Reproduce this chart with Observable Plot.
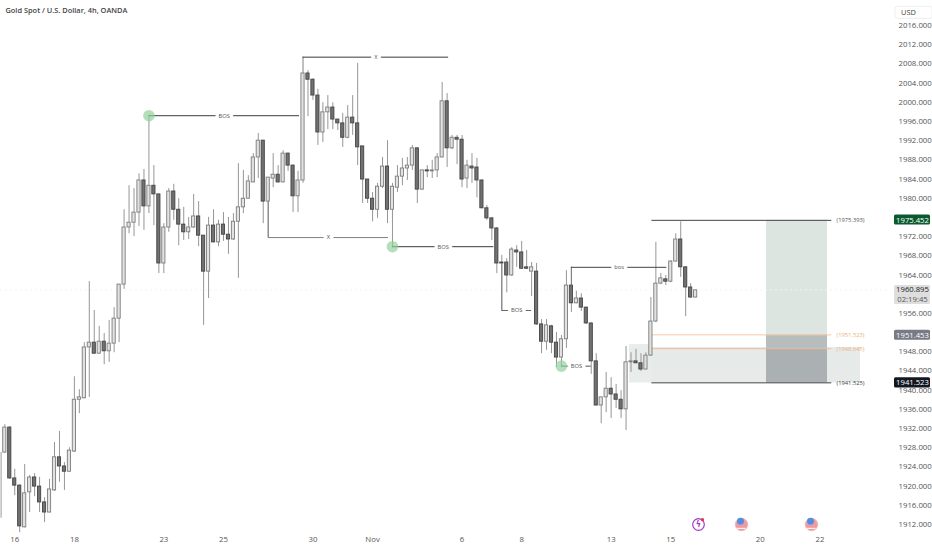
<!DOCTYPE html>
<html><head><meta charset="utf-8">
<script src="https://cdn.jsdelivr.net/npm/d3@7"></script>
<script src="https://cdn.jsdelivr.net/npm/@observablehq/plot@0.6"></script>
<style>html,body{margin:0;padding:0;background:#fff;overflow:hidden}svg{display:block}</style>
</head><body><div id="chart"></div>
<script>
const opens=[1927.0,1932.2,1921.6,1920.1,1911.4,1918.7,1921.8,1919.9,1916.6,1914.5,1919.1,1926.0,1924.1,1923.0,1927.2,1938.0,1938.3,1948.9,1949.9,1947.6,1950.1,1948.1,1949.7,1954.9,1962.0,1973.9,1974.9,1977.0,1983.7,1978.3,1982.6,1980.8,1966.4,1973.9,1981.4,1977.6,1974.5,1972.9,1973.9,1976.2,1972.2,1964.7,1974.3,1970.8,1974.5,1972.4,1971.4,1975.1,1978.1,1979.9,1983.3,1988.5,1992.0,1979.3,1984.1,1984.9,1983.3,1989.3,1986.8,1980.4,1983.7,2006.0,2004.7,2001.4,1993.7,1997.9,1998.9,1996.4,1995.6,1992.6,1996.8,1995.6,1990.8,1983.9,1979.9,1977.6,1982.4,1986.6,1977.6,1982.2,1984.5,1986.2,1986.8,1990.4,1981.8,1985.8,1985.6,1985.8,1988.5,2000.2,1990.4,1992.6,1992.2,1984.1,1986.6,1986.4,1983.7,1977.9,1975.8,1973.7,1966.6,1966.6,1963.9,1969.1,1968.7,1965.6,1964.7,1964.7,1953.7,1950.1,1953.3,1949.9,1946.8,1950.6,1961.8,1958.1,1959.1,1957.2,1953.9,1946.0,1936.8,1938.5,1940.3,1939.1,1938.0,1936.0,1945.8,1946.0,1945.6,1944.3,1947.2,1954.3,1962.2,1963.1,1962.6,1966.8,1971.4,1965.6,1961.4,1959.3];
const highs=[1932.8,1932.4,1923.5,1920.3,1924.5,1922.2,1922.6,1921.8,1917.6,1921.4,1929.1,1931.4,1924.9,1928.0,1942.8,1940.1,1949.9,1962.6,1956.6,1953.3,1951.8,1954.5,1957.2,1962.0,1977.6,1982.6,1982.0,1985.1,1986.0,1997.2,1986.8,1980.8,1974.7,1982.0,1982.9,1979.9,1978.1,1976.0,1980.8,1979.3,1972.2,1976.0,1977.6,1975.4,1977.0,1976.0,1976.8,1987.2,1985.8,1984.7,1989.3,1993.5,1992.0,1984.3,1989.3,1986.8,1989.9,1989.4,1986.9,1985.6,2006.0,2006.6,2004.9,2002.7,1999.9,2001.4,1999.9,1996.4,1997.7,1999.3,2001.4,2008.1,1990.8,1983.9,1981.2,1983.1,1988.5,1992.0,1983.1,1986.8,1988.3,1988.5,1991.0,1990.5,1985.8,1986.8,1987.9,1989.3,2004.1,2001.8,1993.1,1993.1,1993.1,1987.9,1989.3,1988.3,1983.8,1978.5,1976.0,1973.9,1968.1,1967.4,1969.7,1970.1,1971.0,1969.1,1966.6,1966.4,1954.7,1954.7,1953.5,1952.0,1951.4,1964.9,1965.6,1960.6,1960.1,1957.3,1954.0,1947.6,1938.5,1943.7,1942.6,1941.2,1939.9,1949.1,1947.8,1948.5,1947.6,1947.8,1959.3,1970.8,1964.3,1963.9,1967.0,1972.6,1975.1,1965.7,1962.2,1960.8];
const lows=[1926.8,1921.4,1918.0,1910.3,1911.3,1914.5,1917.8,1914.5,1912.4,1914.4,1918.9,1920.8,1919.1,1922.9,1927.0,1935.1,1938.2,1938.5,1947.5,1947.5,1945.3,1945.8,1947.8,1949.9,1961.0,1972.6,1972.0,1974.1,1973.3,1976.8,1974.3,1964.3,1964.3,1972.9,1975.4,1970.1,1971.2,1971.4,1973.7,1969.9,1953.5,1959.1,1970.7,1969.9,1971.0,1968.3,1971.2,1963.3,1976.8,1979.8,1983.2,1984.1,1974.7,1971.8,1982.2,1983.1,1983.2,1985.6,1977.0,1977.0,1983.1,1997.0,2000.4,1991.0,1991.6,1994.3,1994.3,1994.1,1990.6,1992.4,1993.1,1986.8,1978.9,1978.9,1975.1,1975.8,1982.0,1974.7,1969.7,1981.2,1982.6,1983.7,1985.8,1978.9,1981.6,1984.3,1984.1,1984.3,1988.4,1986.4,1990.1,1987.0,1982.2,1982.0,1983.1,1980.1,1977.8,1975.4,1971.2,1964.3,1956.6,1960.3,1963.7,1965.6,1965.2,1965.2,1959.5,1953.5,1947.6,1948.3,1947.6,1944.7,1944.7,1948.7,1956.2,1958.0,1956.4,1953.7,1943.3,1936.7,1933.0,1935.3,1934.1,1936.2,1934.1,1931.6,1943.7,1945.5,1943.9,1944.2,1947.1,1954.1,1962.0,1961.8,1962.4,1966.7,1963.5,1955.3,1959.2,1959.2];
const closes=[1932.2,1921.6,1920.1,1911.6,1918.5,1921.8,1919.9,1916.6,1914.5,1919.3,1926.0,1924.1,1923.0,1927.4,1938.0,1938.5,1948.9,1949.9,1947.6,1950.1,1948.1,1949.7,1954.9,1962.0,1973.9,1974.9,1977.0,1983.7,1978.3,1982.6,1980.8,1966.4,1973.9,1981.4,1977.6,1974.5,1972.9,1973.9,1976.2,1972.2,1964.7,1974.3,1970.8,1974.5,1972.4,1971.4,1975.1,1978.1,1979.9,1983.5,1988.5,1992.0,1979.3,1984.3,1984.9,1983.3,1989.3,1986.8,1980.4,1983.7,2006.0,2004.7,2001.4,1993.7,1997.9,1998.9,1996.4,1995.6,1992.6,1996.8,1995.6,1990.6,1983.9,1979.9,1977.6,1982.4,1986.6,1977.6,1982.4,1984.5,1986.2,1986.8,1990.4,1981.8,1985.8,1985.6,1985.8,1988.5,2000.2,1990.4,1992.6,1992.2,1983.9,1986.8,1986.2,1983.7,1977.9,1975.8,1973.7,1966.4,1966.4,1963.9,1969.3,1968.7,1965.3,1965.3,1965.6,1953.7,1950.1,1953.5,1949.9,1946.8,1950.6,1961.8,1958.1,1959.1,1957.2,1953.9,1946.0,1936.8,1938.5,1940.3,1939.1,1938.0,1936.0,1945.8,1946.0,1945.6,1944.3,1947.2,1954.3,1962.2,1963.3,1962.6,1966.8,1971.4,1965.6,1961.4,1959.3,1960.8];
const candles=opens.map((o,i)=>({i,o,h:highs[i],l:lows[i],c:closes[i],up:closes[i]>=o}));
const edgeHigh=1927.0, edgeLow=1913.3;

const dayAt=[2,14,32,44,62,74,92,104,122,134,152,164];
const dayLabels=["16","18","23","25","30","Nov","6","8","13","15","20","22"];
const hiddenTicks=[1952,1960,1976];
const priceTicks=d3.range(1912,2017,4).filter(d=>!hiddenTicks.includes(d));

const structStart=[29,60,53,78,100,112,114];
const structEnd=[59.3,89.3,77.2,98.4,106,118,133.2];
const structPrice=[1997.2,2009.4,1971.8,1969.9,1956.6,1945.0,1965.6];
const structLabel=["BOS","X","X","BOS","BOS","BOS","bos"];
const structColor=["#3a3a3a","#3a3a3a","#808080","#3a3a3a","#666","#555","#444"];
const structLow=[1997.2,2006,1979.3,1969.9,1966.4,1945,1961.8];
const pivotAt=[29,78,112];
const pivotPrice=[1997.2,1969.9,1945.0];

const levelPrice=[1975.393,1951.523,1948.645,1941.525];
const levelText=["(1975.393)","(1951.523)","(1948.645)","(1941.525)"];
const levelColor=["#555","#eeb27e","#eeb27e","#444"];
const levelStroke=["#444","#f3c9a6","#eebf98","#444"];
const levelFrom=130.2, levelTo=166.4;

const tagPrice=[1975.452,1960.895,1951.453,1941.523];
const tagText=["1975.452","1960.895","1951.453","1941.523"];
const tagFill=["#0b5a2e","#dedede","#787b86","#131722"];
const tagInk=["#fff","#222","#fff","#fff"];

const fnt="'Open Sans', sans-serif";
const F=7.8;
const X=px=>(px-4.3)/4.97;
const tagBoxes=tagPrice.map((p,k)=>({x1:X(894),x2:X(930),y1:k==1?1961.8:p+1.05,y2:k==1?1957.85:p-1.05,fill:tagFill[k]}));

const plot=Plot.plot({
  width:932,height:550,marginLeft:0,marginRight:44,marginTop:25,marginBottom:26,
  style:{fontFamily:fnt,background:"#fff"},
  x:{domain:[X(0),X(888)],range:[0,888],axis:null},
  y:{domain:[1912,2016],range:[524,25],axis:null},
  marks:[
    // zones
    Plot.rect([0],{x1:X(629),x2:X(652),y1:1941.5,y2:1949.5,fill:"#e8ecea"}),
    Plot.rect([0],{x1:X(652),x2:X(860),y1:1941.5,y2:1948.9,fill:"#e6eae9"}),
    Plot.rect([0],{x1:X(766),x2:X(827),y1:1951.5,y2:1975.4,fill:"#dce5e0"}),
    Plot.rect([0],{x1:X(766),x2:X(827),y1:1948.7,y2:1951.5,fill:"#b7bcbd"}),
    Plot.rect([0],{x1:X(766),x2:X(827),y1:1941.5,y2:1948.7,fill:"#abb0b3"}),
    Plot.ruleY([1960.895],{x1:X(0),x2:X(888),stroke:"#f3f3f3",strokeDasharray:"2 3"}),
    // levels
    Plot.ruleY(levelPrice,{x1:levelFrom,x2:levelTo,stroke:(d,k)=>levelStroke[k],strokeWidth:1}),
    Plot.text(levelPrice,{x:X(850),y:d=>d,text:(d,k)=>levelText[k],fill:(d,k)=>levelColor[k],fontSize:5.8,fontFamily:fnt}),
    // wicks and bodies
    Plot.ruleX([0],{x:X(0.6),y1:edgeLow,y2:edgeHigh,stroke:"#9a9a9a",strokeWidth:1}),
    Plot.ruleX(candles,{x:"i",y1:"l",y2:"h",stroke:"#969696",strokeWidth:1}),
    Plot.rect(candles,{x1:d=>d.i-.32,x2:d=>d.i+.32,y1:d=>d.o,y2:d=>d.c,fill:d=>d.up?"#e2e2e2":"#717171",stroke:d=>d.up?"#7c7c7c":"#444",strokeWidth:.9}),
    // structure stems
    Plot.ruleX(structPrice,{x:(d,k)=>structStart[k],y1:d=>d,y2:(d,k)=>structLow[k],stroke:"#808080",strokeWidth:1}),
    // structure lines with labels
    Plot.ruleY(structPrice,{x1:(d,k)=>structStart[k],x2:(d,k)=>structEnd[k],stroke:(d,k)=>structColor[k],strokeWidth:1}),
    Plot.text(structPrice,{x:(d,k)=>(structStart[k]+structEnd[k])/2,y:d=>d,text:(d,k)=>structLabel[k],fill:"#555",fontSize:5.8,stroke:"#fff",strokeWidth:7,fontFamily:fnt}),
    Plot.dot(pivotPrice,{x:(d,k)=>pivotAt[k],y:d=>d,r:5.8,fill:"#8fd19a",fillOpacity:.68}),
    // axes
    Plot.axisY({anchor:"right",ticks:priceTicks,tickSize:0,tickPadding:10,tickFormat:d=>d.toFixed(3),fontSize:F,fill:"#555",label:null,fontFamily:fnt}),
    Plot.axisX({anchor:"bottom",ticks:dayAt,tickSize:0,tickPadding:12,tickFormat:d=>dayLabels[dayAt.indexOf(d)],fontSize:F,fill:"#555",label:null,fontFamily:fnt}),
    // price tags
    Plot.rect(tagBoxes,{x1:"x1",x2:"x2",y1:"y1",y2:"y2",fill:"fill",r:1.5}),
    Plot.text(tagPrice,{x:X(912),y:d=>d,text:(d,k)=>tagText[k],fill:(d,k)=>tagInk[k],fontSize:7.7,fontWeight:400,fontFamily:fnt}),
    Plot.text(["02:19:45"],{x:X(912),y:1958.9,text:d=>d,fill:"#555",fontSize:7.7,fontFamily:fnt}),
    // calendar icons
    Plot.dot([698],{x:d=>X(d),y:1912,r:5.8,stroke:"#a23bc4",strokeWidth:1.2,fill:"#fff"}),
    Plot.text(["ϟ"],{x:X(698),y:1912,text:d=>d,fill:"#a23bc4",fontSize:8,fontWeight:700,fontFamily:"'DejaVu Sans'"}),
    Plot.dot([702],{x:d=>X(d),y:1913,r:1.6,fill:"#e5324b"}),
    Plot.dot([741,811],{x:d=>X(d),y:1912,r:6.2,fill:"#ef9aa0",stroke:"#f2b5b9",strokeWidth:1}),
    Plot.dot([740,810],{x:d=>X(d),y:1912.7,r:3.4,fill:"#4f8fe0"}),
    Plot.ruleY([0,1],{x1:d=>X(d==0?736.5:806.5),x2:d=>X(d==0?745.5:815.5),y:1911.2,stroke:"#fff",strokeWidth:1}),
    // header
    Plot.text(["Gold Spot / U.S. Dollar, 4h, OANDA"],{frameAnchor:"top-left",dx:5,dy:-17.5,text:d=>d,fill:"#444",fontSize:7.4,fontWeight:600,fontFamily:fnt}),
    Plot.rect([0],{x1:X(895),x2:X(932),y1:2019.9,y2:2017.4,fill:"#fff",stroke:"#eeeeee",r:2}),
    Plot.text(["USD"],{x:X(908),y:2018.7,text:d=>d,fill:"#444",fontSize:7.4,fontFamily:fnt})
  ]
});
document.getElementById("chart").append(plot);
</script></body></html>
